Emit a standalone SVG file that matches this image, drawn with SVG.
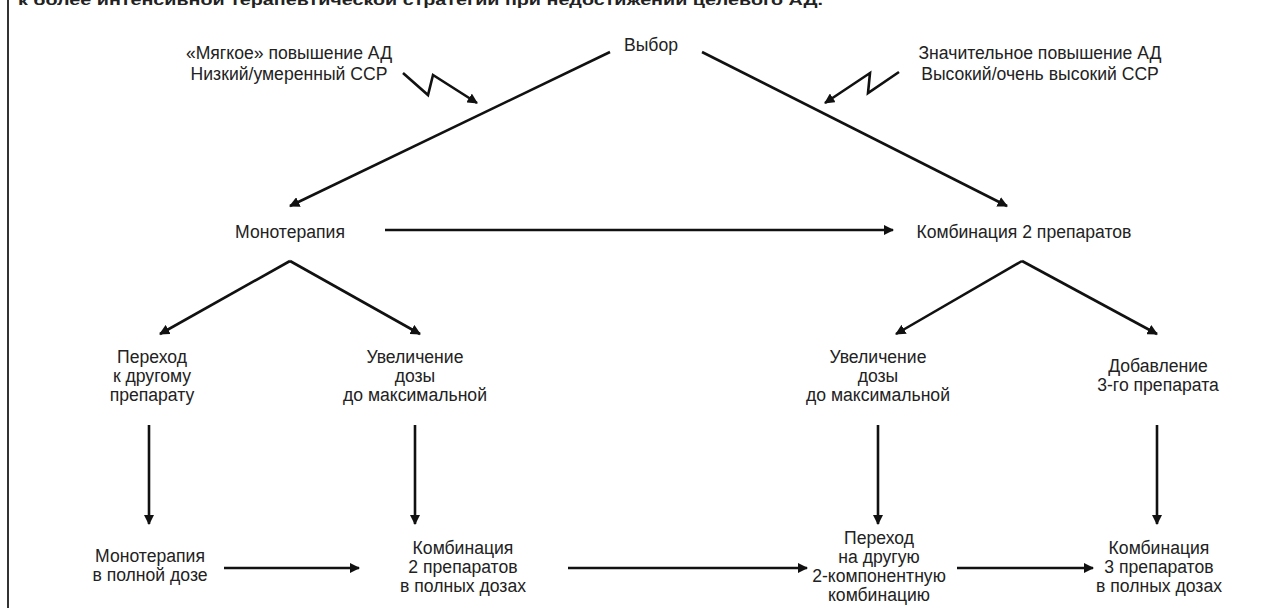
<svg xmlns="http://www.w3.org/2000/svg" width="1277" height="608" viewBox="0 0 1277 608">
<defs>
<marker id="ah" viewBox="0 0 10 10" refX="9" refY="5" markerWidth="4" markerHeight="4" orient="auto" markerUnits="strokeWidth">
<path d="M0,0 L10,5 L0,10 Z" fill="#111"/>
</marker>
<style>
.t{font-family:"Liberation Sans",Arial,sans-serif;font-size:17.6px;fill:#222;text-anchor:middle}
.title{font-family:"Liberation Sans",Arial,sans-serif;font-size:14px;font-weight:bold;fill:#222}
.c{stroke:#111;stroke-width:2.6;fill:none;marker-end:url(#ah)}
</style>
</defs>
<rect width="1277" height="608" fill="#fff"/>
<line x1="8" y1="0" x2="8" y2="608" stroke="#333" stroke-width="2"/>
<text class="title" x="18" y="5" textLength="805" lengthAdjust="spacingAndGlyphs">к более интенсивной терапевтической стратегии при недостижении целевого АД.</text>

<g id="connectors">
<line class="c" x1="610" y1="52" x2="290" y2="206"/>
<line class="c" x1="702" y1="52" x2="1007" y2="206"/>
<polyline class="c" points="403,73 428,95 433,75 477,103"/>
<polyline class="c" points="899,72 868,93 870,73 825,103"/>
<line class="c" x1="385" y1="230" x2="893" y2="230"/>
<line class="c" x1="290" y1="261" x2="160" y2="334"/>
<line class="c" x1="290" y1="261" x2="420" y2="334"/>
<line class="c" x1="1022" y1="261" x2="896" y2="334"/>
<line class="c" x1="1022" y1="261" x2="1157" y2="334"/>
<line class="c" x1="149" y1="425" x2="149" y2="524"/>
<line class="c" x1="415" y1="425" x2="415" y2="524"/>
<line class="c" x1="878" y1="425" x2="878" y2="524"/>
<line class="c" x1="1157" y1="425" x2="1157" y2="524"/>
<line class="c" x1="224" y1="568" x2="359" y2="568"/>
<line class="c" x1="568" y1="568" x2="807" y2="568"/>
<line class="c" x1="957" y1="568" x2="1093" y2="568"/>
</g>

<g id="n-vybor"><text class="t" x="651" y="51">Выбор</text></g>
<g id="n-soft"><text class="t" x="289" y="59">«Мягкое» повышение АД</text><text class="t" x="289" y="80">Низкий/умеренный ССР</text></g>
<g id="n-high"><text class="t" x="1040" y="59">Значительное повышение АД</text><text class="t" x="1040" y="80">Высокий/очень высокий ССР</text></g>
<g id="n-mono"><text class="t" x="290" y="238">Монотерапия</text></g>
<g id="n-comb2"><text class="t" x="1024" y="238">Комбинация 2 препаратов</text></g>
<g id="n-switch"><text class="t" x="152" y="363">Переход</text><text class="t" x="152" y="382">к другому</text><text class="t" x="152" y="401">препарату</text></g>
<g id="n-inc1"><text class="t" x="415" y="363">Увеличение</text><text class="t" x="415" y="382">дозы</text><text class="t" x="415" y="401">до максимальной</text></g>
<g id="n-inc2"><text class="t" x="878" y="363">Увеличение</text><text class="t" x="878" y="382">дозы</text><text class="t" x="878" y="401">до максимальной</text></g>
<g id="n-add3"><text class="t" x="1158" y="372">Добавление</text><text class="t" x="1158" y="391">3-го препарата</text></g>
<g id="n-monofull"><text class="t" x="150" y="562">Монотерапия</text><text class="t" x="150" y="581">в полной дозе</text></g>
<g id="n-comb2full"><text class="t" x="463" y="554">Комбинация</text><text class="t" x="463" y="573">2 препаратов</text><text class="t" x="463" y="592">в полных дозах</text></g>
<g id="n-switch2"><text class="t" x="879" y="544">Переход</text><text class="t" x="879" y="563">на другую</text><text class="t" x="879" y="582">2-компонентную</text><text class="t" x="879" y="601">комбинацию</text></g>
<g id="n-comb3full"><text class="t" x="1159" y="554">Комбинация</text><text class="t" x="1159" y="573">3 препаратов</text><text class="t" x="1159" y="592">в полных дозах</text></g>
</svg>
